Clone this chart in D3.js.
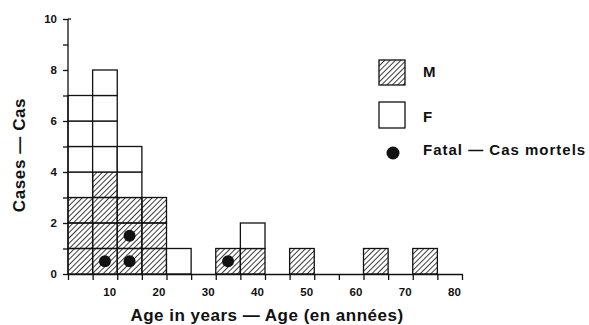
<!DOCTYPE html>
<html lang="en">
<head>
  <meta charset="UTF-8">
  <title>Cases by age</title>
  <style>
  body { margin: 0; background: #fff; }
  svg { font-family: "Liberation Sans", Arial, sans-serif; }
  .axis path, .axis line { stroke: #111; stroke-width: 1.3px; }
  .axis text { font-size: 11.5px; font-weight: bold; fill: #111; }
  .cell { stroke: #111; stroke-width: 1.3px; }
  .title { font-weight: bold; fill: #111; }
  </style>
</head>
<body>
  <script src="https://d3js.org/d3.v7.min.js"></script>
  <script type="text/javascript">

    var width = 589;
    var height = 325;

    // age groups (start of each 5-year bin)
    var binStarts = [0, 5, 10, 15, 20, 25, 30, 35, 40, 45, 50, 55, 60, 65, 70, 75];
    var male   = [3, 4, 3, 3, 0, 0, 1, 1, 0, 1, 0, 0, 1, 0, 1, 0];
    var female = [4, 4, 2, 0, 1, 0, 0, 1, 0, 0, 0, 0, 0, 0, 0, 0];
    var fatal  = [0, 1, 2, 0, 0, 0, 1, 0, 0, 0, 0, 0, 0, 0, 0, 0];
    var xTicks = [10, 20, 30, 40, 50, 60, 70, 80];
    var yTicks = [0, 2, 4, 6, 8, 10];
    var binWidth = 5;

    var svg = d3.select("body")
        .append("svg")
          .attr("width", width)
          .attr("height", height);

    // hatching for male cases
    var defs = svg.append("defs");
    defs.append("pattern")
        .attr("id", "hatch")
        .attr("patternUnits", "userSpaceOnUse")
        .attr("width", 3.8)
        .attr("height", 3.8)
        .attr("patternTransform", "rotate(45)")
      .append("line")
        .attr("x1", 0).attr("y1", 0)
        .attr("x2", 0).attr("y2", 3.8)
        .attr("stroke", "#000")
        .attr("stroke-width", 1.5);

    var x = d3.scaleLinear().domain([0, 80]).range([68, 462]);
    var y = d3.scaleLinear().domain([0, 10]).range([274, 19]);

    // one square per case
    var cells = [];
    binStarts.forEach(function(b, i){
      for (var k = 0; k < male[i]; k++) cells.push({ bin: b, level: k, sex: "M" });
      for (var k = 0; k < female[i]; k++) cells.push({ bin: b, level: male[i] + k, sex: "F" });
    });

    svg.append("g")
      .selectAll("rect")
      .data(cells)
      .enter()
      .append("rect")
        .attr("class", "cell")
        .attr("x", function(d){ return x(d.bin); })
        .attr("y", function(d){ return y(d.level + 1); })
        .attr("width", function(d){ return x(d.bin + binWidth) - x(d.bin); })
        .attr("height", function(d){ return y(d.level) - y(d.level + 1); })
        .attr("fill", function(d){ return d.sex == "M" ? "url(#hatch)" : "#fff"; });

    // fatal cases, one dot per case, stacked in the bin
    var dots = [];
    binStarts.forEach(function(b, i){
      for (var k = 0; k < fatal[i]; k++) dots.push({ bin: b, level: k });
    });

    svg.append("g")
      .selectAll("circle")
      .data(dots)
      .enter()
      .append("circle")
        .attr("cx", function(d){ return x(d.bin + binWidth / 2); })
        .attr("cy", function(d){ return y(d.level + 0.5); })
        .attr("r", 6)
        .attr("fill", "#111");

    // axes
    var xAxis = svg.append("g")
        .attr("class", "axis")
        .attr("transform", "translate(0," + y(0) + ")")
        .call(d3.axisBottom(x)
          .tickValues(binStarts.concat([80]))
          .tickSize(6)
          .tickSizeOuter(0)
          .tickPadding(8)
          .tickFormat(function(d){ return xTicks.indexOf(d) >= 0 ? d : ""; }));
    xAxis.selectAll("text").attr("dx", -8);

    var yAxis = svg.append("g")
        .attr("class", "axis")
        .attr("transform", "translate(" + x(0) + ",0)")
        .call(d3.axisLeft(y)
          .ticks(10)
          .tickSize(5)
          .tickSizeOuter(0)
          .tickPadding(6)
          .tickFormat(function(d){ return yTicks.indexOf(d) >= 0 ? d : ""; }));
    yAxis.select(".domain").remove();
    yAxis.append("line")
        .attr("x1", 0).attr("x2", 0)
        .attr("y1", y(0)).attr("y2", y(10))
        .attr("stroke", "#111").attr("stroke-width", 1.3);
    yAxis.append("line")
        .attr("x1", 0).attr("x2", 3)
        .attr("y1", y(10)).attr("y2", y(10))
        .attr("stroke", "#111").attr("stroke-width", 1.3);

    // axis titles
    svg.append("text")
        .attr("class", "title")
        .attr("transform", "translate(25," + 155 + ") rotate(-90)")
        .attr("text-anchor", "middle")
        .style("font-size", "17px")
        .style("letter-spacing", "0.6px")
        .text("Cases — Cas");

    svg.append("text")
        .attr("class", "title")
        .attr("x", 267)
        .attr("y", 321)
        .attr("text-anchor", "middle")
        .style("font-size", "17px")
        .style("letter-spacing", "0.5px")
        .text("Age in years — Age (en années)");

    // legend
    var legend = svg.append("g").attr("transform", "translate(379,60)");

    legend.append("rect")
        .attr("class", "cell")
        .attr("width", 26).attr("height", 25)
        .attr("fill", "url(#hatch)");
    legend.append("text")
        .attr("class", "title")
        .attr("x", 44).attr("y", 17)
        .style("font-size", "15px")
        .text("M");

    legend.append("rect")
        .attr("class", "cell")
        .attr("y", 42)
        .attr("width", 26).attr("height", 26)
        .attr("fill", "#fff");
    legend.append("text")
        .attr("class", "title")
        .attr("x", 44).attr("y", 62)
        .style("font-size", "15px")
        .text("F");

    legend.append("circle")
        .attr("cx", 14).attr("cy", 93)
        .attr("r", 6.5)
        .attr("fill", "#111");
    legend.append("text")
        .attr("class", "title")
        .attr("x", 44).attr("y", 95)
        .style("font-size", "15px")
        .style("letter-spacing", "1px")
        .text("Fatal — Cas mortels");
  </script>
</body>
</html>
